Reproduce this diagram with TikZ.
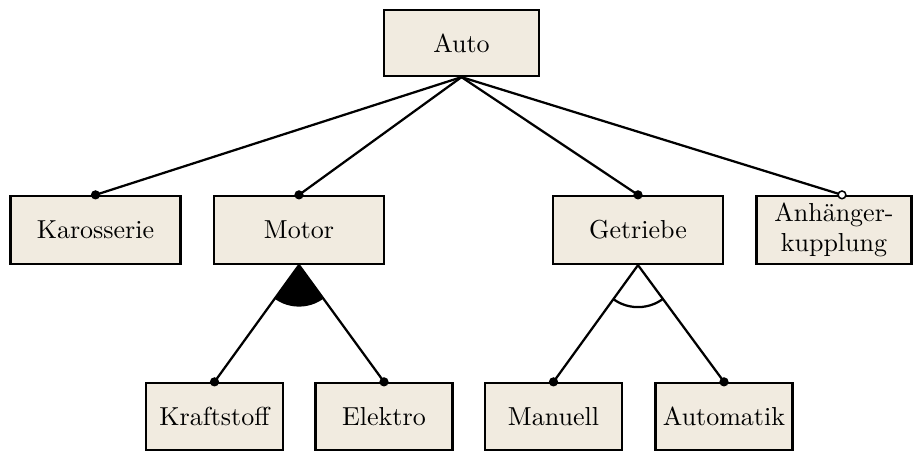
\documentclass[tikz,border=0pt]{standalone}
\usetikzlibrary{calc}
\definecolor{boxfill}{RGB}{241,235,224}
\pgfdeclarelayer{edges}
\pgfsetlayers{edges,main}
\begin{document}
\begin{tikzpicture}[x=0.4pt,y=-0.4pt,
  feature/.style={draw=black,fill=boxfill,line width=0.9pt,rectangle,
    minimum width=68pt,minimum height=27.2pt,inner sep=2pt,align=center,
    font=\fontsize{10.4}{12}\selectfont},
  leaf/.style={feature,minimum width=54.8pt,minimum height=26.8pt},
  edge/.style={line width=0.9pt,black},
  mandatory/.style={fill=black},
  optional/.style={fill=white,draw=black,line width=0.6pt}]
\useasboundingbox (0,0) rectangle (915,451);

% feature boxes
\node[feature,minimum width=62pt,minimum height=26.4pt] (auto) at (461.5,43) {Auto};
\node[feature] (karo)  at (95.5,230) {Karosserie};
\node[feature] (motor) at (299,230)  {Motor};
\node[feature] (getr)  at (638,230)  {Getriebe};
\node[feature,minimum width=62pt] (anh) at (834,230) {Anhänger-\\kupplung};
\node[leaf] (kraft) at (214.5,416.5) {Kraftstoff};
\node[leaf] (elek)  at (384,416.5)   {Elektro};
\node[leaf] (manu)  at (553.5,416.5) {Manuell};
\node[leaf] (autom) at (724,416.5)   {Automatik};

\coordinate (anhtop) at ([xshift=3.2pt]anh.north);

\begin{pgfonlayer}{edges}
% edges from the root
\draw[edge] (auto.south) -- (karo.north);
\draw[edge] (auto.south) -- (motor.north);
\draw[edge] (auto.south) -- (getr.north);
\draw[edge] (auto.south) -- (anhtop);

% or-group under Motor (filled sector)
\draw[edge] (motor.south) -- (kraft.north);
\draw[edge] (motor.south) -- (elek.north);
\begin{scope}
  \clip (motor.south) -- (kraft.north) -- (elek.north) -- cycle;
  \fill[black] (motor.south) circle[radius=16.6pt];
\end{scope}

% alternative group under Getriebe (open arc)
\draw[edge] (getr.south) -- (manu.north);
\draw[edge] (getr.south) -- (autom.north);
\begin{scope}
  \clip (getr.south) -- (manu.north) -- (autom.north) -- cycle;
  \draw[edge] (getr.south) circle[radius=16.8pt];
\end{scope}
\end{pgfonlayer}

% end markers
\fill[mandatory] (karo.north) circle[radius=1.85pt];
\fill[mandatory] (motor.north) circle[radius=1.85pt];
\fill[mandatory] (getr.north) circle[radius=1.85pt];
\filldraw[optional] (anhtop) circle[radius=1.55pt];
\fill[mandatory] (kraft.north) circle[radius=1.85pt];
\fill[mandatory] (elek.north) circle[radius=1.85pt];
\fill[mandatory] (manu.north) circle[radius=1.85pt];
\fill[mandatory] (autom.north) circle[radius=1.85pt];
\end{tikzpicture}
\end{document}
